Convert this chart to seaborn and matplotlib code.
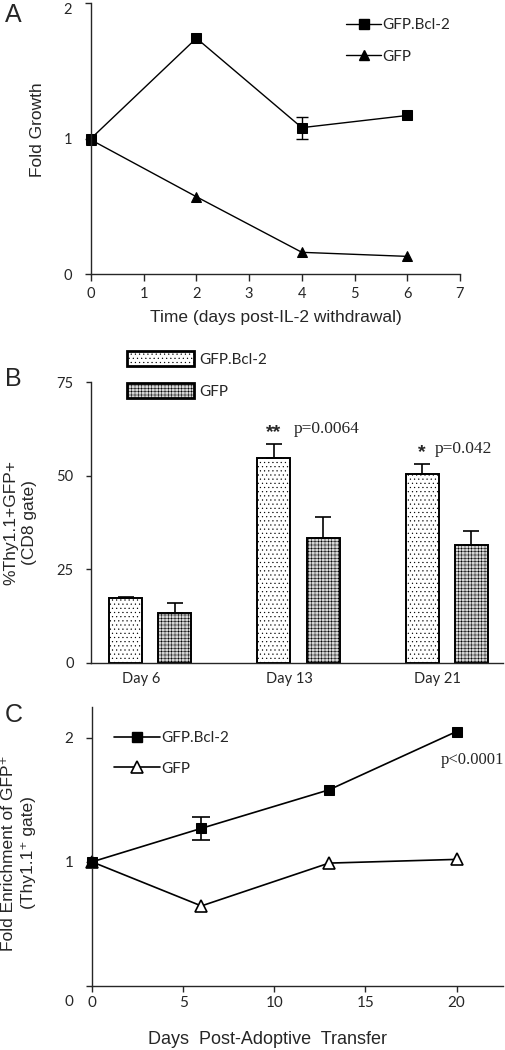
import numpy as np
import pandas as pd
import matplotlib
matplotlib.use("Agg")
import matplotlib.pyplot as plt
import matplotlib.transforms as mtrans
import seaborn as sns
from matplotlib.patches import Patch
from matplotlib.lines import Line2D

# ---------------- data ----------------
series = ["GFP.Bcl-2", "GFP"]

# Panel A
a_days = [0, 2, 4, 6]
a_bcl2 = [1.0, 1.74, 1.08, 1.17]
a_bcl2_err = [0.0, 0.0, 0.08, 0.0]
a_gfp = [0.99, 0.57, 0.16, 0.13]
a_xticks = [0, 1, 2, 3, 4, 5, 6, 7]
a_yticks = [0, 1, 2]

# Panel B
b_days = ["Day 6", "Day 13", "Day 21"]
b_bcl2 = [17.2, 54.6, 50.4]
b_bcl2_err = [0.3, 3.8, 2.7]
b_gfp = [13.4, 33.3, 31.4]
b_gfp_err = [2.5, 5.6, 3.8]
b_stars = ["", "**", "*"]
b_pvals = ["", "p=0.0064", "p=0.042"]
b_yticks = [0, 25, 50, 75]

# Panel C
c_days = [0, 6, 13, 20]
c_bcl2 = [1.0, 1.27, 1.58, 2.05]
c_bcl2_err = [0.0, 0.09, 0.0, 0.0]
c_gfp = [1.0, 0.645, 0.99, 1.02]
c_pval = "p<0.0001"
c_xticks = [0, 5, 10, 15, 20]
c_yticks = [0, 1, 2]

# ---------------- style ----------------
sns.set_style("ticks")
plt.rcParams["font.family"] = ["Liberation Sans", "DejaVu Sans"]
plt.rcParams["hatch.linewidth"] = 0.35
plt.rcParams["axes.linewidth"] = 1.0

W, H = 506, 1050
fig = plt.figure(figsize=(W / 100, H / 100), dpi=100)


def px_axes(left, top, right, bottom):
    return fig.add_axes([left / W, 1 - bottom / H, (right - left) / W, (bottom - top) / H])


TICKFONT = "Lato"

# ================= Panel A =================
axA = px_axes(91, 3, 460, 274)
sns.lineplot(x=a_days, y=a_bcl2, marker="s", color="black", markersize=6.5,
             markeredgecolor="black", linewidth=1.0, errorbar=None, ax=axA,
             clip_on=False)
sns.lineplot(x=a_days, y=a_gfp, marker="^", color="black", markersize=7.5,
             markeredgecolor="black", linewidth=1.0, errorbar=None, ax=axA,
             clip_on=False)
mask = np.array(a_bcl2_err) > 0
axA.errorbar(np.array(a_days)[mask], np.array(a_bcl2)[mask],
             yerr=np.array(a_bcl2_err)[mask], fmt="none", ecolor="black",
             elinewidth=1.0, capsize=4.5, capthick=1.0)
axA.set_xlim(0, 7)
axA.set_ylim(0, 2)
axA.set_xticks(a_xticks)
axA.set_yticks(a_yticks)
sns.despine(ax=axA)
axA.tick_params(axis="x", direction="out", length=5, width=1, pad=4,
                labelsize=10.5, labelfontfamily=TICKFONT)
axA.tick_params(axis="y", direction="out", length=4.5, width=1, pad=9,
                labelsize=10.5, labelfontfamily=TICKFONT)
downA = mtrans.ScaledTranslation(0, -5 / 100, fig.dpi_scale_trans)
ylabsA = axA.get_yticklabels()
ylabsA[-1].set_transform(ylabsA[-1].get_transform() + downA)
axA.set_xlabel("Time (days post-IL-2 withdrawal)", fontsize=12.5)
axA.set_ylabel("Fold Growth", fontsize=12.5)
axA.xaxis.label.set_va("center")
axA.yaxis.label.set_va("center")
axA.xaxis.set_label_coords(0.501, -0.162)
axA.yaxis.set_label_coords(-0.146, 0.531)
hA = [Line2D([], [], color="black", marker="s", markersize=6.5, lw=1.0),
      Line2D([], [], color="black", marker="^", markersize=7.5, lw=1.0)]
axA.legend(hA, series, loc="upper left", bbox_to_anchor=((346 - 91) / 369, (274 - 18) / 271),
           frameon=False, borderpad=0, borderaxespad=0, handlelength=2.3,
           handletextpad=0.1, labelspacing=1.15,
           prop={"family": TICKFONT, "size": 11})

# ================= Panel B =================
axB = px_axes(91, 382, 503, 662.7)
dfB = pd.DataFrame({
    "day": b_days * 2,
    "value": b_bcl2 + b_gfp,
    "group": [series[0]] * 3 + [series[1]] * 3,
})
sns.barplot(data=dfB, x="day", y="value", hue="group", hue_order=series,
            order=b_days, palette=["white", "#d6d6d6"], edgecolor="black",
            linewidth=1.4, width=0.664, gap=0.33, errorbar=None, legend=False,
            ax=axB)
hatches = ["....", "+++++"]
errs = [b_bcl2_err, b_gfp_err]
tops = []
for cont, hatch, err in zip(axB.containers, hatches, errs):
    xs, hs = [], []
    for bar in cont:
        bar.set_hatch(hatch)
        xs.append(bar.get_x() + bar.get_width() / 2)
        hs.append(bar.get_height())
    axB.errorbar(xs, hs, yerr=[np.zeros(len(err)), err], fmt="none",
                 ecolor="black", elinewidth=1.2, capsize=6, capthick=1.2)
    tops.append((xs, [h + e for h, e in zip(hs, err)]))

xs0, top0 = tops[0]
for x, t, star, pv in zip(xs0, top0, b_stars, b_pvals):
    if star:
        axB.annotate(star, xy=(x, t), xytext=(0, 5), textcoords="offset points",
                     ha="center", va="baseline", fontsize=14, fontweight="bold")
        axB.annotate(pv, xy=(x, t), xytext=(4 + 5 * len(star), 11),
                     textcoords="offset points", ha="left", va="center",
                     fontsize=12.5, family="Liberation Serif")

axB.set_xlim(-0.40, 2.38)
axB.set_ylim(0, 75)
axB.set_yticks(b_yticks)
sns.despine(ax=axB)
axB.tick_params(axis="x", length=0, pad=7, labelsize=10.5, labelfontfamily=TICKFONT)
axB.tick_params(axis="y", direction="out", length=3.5, width=1, pad=9,
                labelsize=10.5, labelfontfamily=TICKFONT)
shift = mtrans.ScaledTranslation(-9 / 100, 0, fig.dpi_scale_trans)
for lab in axB.get_xticklabels():
    lab.set_transform(lab.get_transform() + shift)
axB.set_xlabel("")
axB.set_ylabel("%Thy1.1+GFP+\n(CD8 gate)", fontsize=12.5, linespacing=1.3)
axB.yaxis.label.set_va("center")
axB.yaxis.set_label_coords(-0.172, 0.5)
hB = [Patch(facecolor="white", edgecolor="black", hatch="....", linewidth=2),
      Patch(facecolor="#d6d6d6", edgecolor="black", hatch="+++++", linewidth=2)]
axB.legend(hB, series, loc="upper left",
           bbox_to_anchor=((127 - 91) / 412, (662.7 - 351) / 280.7),
           frameon=False, borderpad=0, borderaxespad=0, handlelength=4.4,
           handleheight=1.1, handletextpad=0.3, labelspacing=1.1,
           prop={"family": TICKFONT, "size": 11})

# ================= Panel C =================
axC = px_axes(92, 706.7, 503, 986)
sns.lineplot(x=c_days, y=c_bcl2, marker="s", color="black", markersize=7.5,
             markeredgecolor="black", linewidth=1.2, errorbar=None, ax=axC,
             clip_on=False, zorder=3)
sns.lineplot(x=c_days, y=c_gfp, marker="^", color="black", markersize=9,
             markerfacecolor="white", markeredgecolor="black",
             markeredgewidth=1.2, linewidth=1.2, errorbar=None, ax=axC,
             clip_on=False, zorder=2)
maskc = np.array(c_bcl2_err) > 0
axC.errorbar(np.array(c_days)[maskc], np.array(c_bcl2)[maskc],
             yerr=np.array(c_bcl2_err)[maskc], fmt="none", ecolor="black",
             elinewidth=1.2, capsize=6.5, capthick=1.2)
axC.annotate(c_pval, xy=(c_days[-1], c_bcl2[-1]), xytext=(-11.3, -20.6),
             textcoords="offset points", ha="left", va="center",
             fontsize=12, family="Liberation Serif")
axC.set_xlim(0, 22.55)
axC.set_ylim(0, 2.25)
axC.set_xticks(c_xticks)
axC.set_yticks(c_yticks)
sns.despine(ax=axC)
axC.tick_params(axis="x", direction="out", length=4.5, width=1, pad=3,
                labelsize=11, labelfontfamily=TICKFONT)
axC.tick_params(axis="y", direction="out", length=4.5, width=1, pad=9,
                labelsize=11, labelfontfamily=TICKFONT)
down = mtrans.ScaledTranslation(0, -15 / 100, fig.dpi_scale_trans)
ylabs = axC.get_yticklabels()
ylabs[0].set_transform(ylabs[0].get_transform() + down)
axC.set_xlabel("Days  Post-Adoptive  Transfer", fontsize=13)
axC.set_ylabel("Fold Enrichment of GFP\u207a\n(Thy1.1\u207a gate)", fontsize=12.5,
               linespacing=1.4)
axC.xaxis.label.set_va("center")
axC.yaxis.label.set_va("center")
axC.xaxis.set_label_coords(0.426, -0.193)
axC.yaxis.set_label_coords(-0.179, 0.476)
hC = [Line2D([], [], color="black", marker="s", markersize=7.5, lw=1.2),
      Line2D([], [], color="black", marker="^", markersize=9, lw=1.2,
             markerfacecolor="white", markeredgewidth=1.2)]
axC.legend(hC, series, loc="upper left",
           bbox_to_anchor=((114 - 92) / 411, (986 - 731) / 279.3),
           frameon=False, borderpad=0, borderaxespad=0, handlelength=3.0,
           handletextpad=0.1, labelspacing=1.1,
           prop={"family": TICKFONT, "size": 11})

# ---------------- panel letters ----------------
for letter, ypx in [("A", 15), ("B", 379), ("C", 715)]:
    fig.text(5 / W, 1 - ypx / H, letter, fontsize=18, ha="left", va="center")

fig.savefig("out.png", dpi=100)
